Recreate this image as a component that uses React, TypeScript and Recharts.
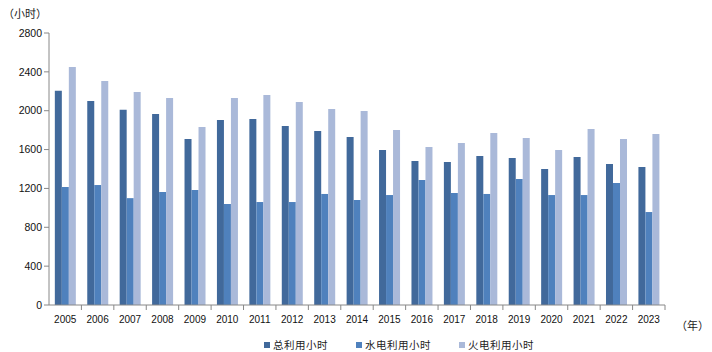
import { BarChart, Bar, XAxis, YAxis, Legend } from "recharts";

const years = [
  "2005", "2006", "2007", "2008", "2009", "2010", "2011", "2012", "2013", "2014",
  "2015", "2016", "2017", "2018", "2019", "2020", "2021", "2022", "2023",
];
const totalHours = [2205, 2100, 2010, 1966, 1708, 1904, 1915, 1843, 1791, 1729, 1595, 1482, 1472, 1534, 1513, 1400, 1523, 1451, 1420];
const hydroHours = [1215, 1235, 1100, 1163, 1184, 1040, 1060, 1060, 1143, 1081, 1132, 1287, 1153, 1143, 1297, 1132, 1132, 1256, 957];
const thermalHours = [2449, 2305, 2192, 2131, 1832, 2131, 2162, 2090, 2018, 1997, 1801, 1626, 1667, 1770, 1719, 1595, 1811, 1708, 1760];
const yTicks = [0, 400, 800, 1200, 1600, 2000, 2400, 2800];

const series = [
  { key: "total", name: "总利用小时", color: "#41699B" },
  { key: "hydro", name: "水电利用小时", color: "#4F81BD" },
  { key: "thermal", name: "火电利用小时", color: "#AAB9D9" },
];

const data = years.map((year, i) => ({
  year,
  total: totalHours[i],
  hydro: hydroHours[i],
  thermal: thermalHours[i],
}));

const font = '"Liberation Sans", Arial, "Noto Sans CJK SC", sans-serif';
const axisColor = "#888";

function XTick(props: any) {
  const { x, y, payload } = props;
  const half = payload?.offset ?? 16.2;
  return (
    <g>
      <line x1={x + half} y1={y - 8} x2={x + half} y2={y - 3} stroke={axisColor} />
      <text x={x} y={y + 10} textAnchor="middle" fill="#111" fontSize={10} fontFamily={font}>
        {payload.value}
      </text>
    </g>
  );
}

function LegendContent() {
  return (
    <div style={{ display: "flex", fontFamily: font, fontSize: 10.5, color: "#222" }}>
      {series.map((s) => (
        <div key={s.key} style={{ display: "flex", alignItems: "center", marginRight: 28 }}>
          <span style={{ width: 6, height: 6, background: s.color, marginRight: 3, display: "inline-block" }} />
          <span style={{ letterSpacing: 0.5 }}>{s.name}</span>
        </div>
      ))}
    </div>
  );
}

export default function App() {
  return (
    <div style={{ position: "absolute", left: 0, top: 0, width: 712, height: 352, background: "#fff" }}>
      <BarChart
        width={712}
        height={352}
        data={data}
        margin={{ top: 33, right: 47, bottom: 13, left: 0 }}
        barCategoryGap="18%"
        barGap={0}
      >
        <XAxis
          dataKey="year"
          height={20}
          axisLine={{ stroke: axisColor }}
          tickLine={false}
          tick={<XTick />}
          interval={0}
        />
        <YAxis
          width={49}
          domain={[0, 2800]}
          ticks={yTicks}
          interval={0}
          axisLine={{ stroke: axisColor }}
          tickLine={{ stroke: axisColor }}
          tickSize={5}
          tick={{ fill: "#111", fontSize: 10.5, fontFamily: font }}
        />
        <Legend
          content={<LegendContent />}
          wrapperStyle={{ left: 264, top: 337, width: "auto", height: 14 }}
        />
        {series.map((s) => (
          <Bar key={s.key} dataKey={s.key} name={s.name} fill={s.color} isAnimationActive={false} />
        ))}
      </BarChart>
      <div style={{ position: "absolute", left: 3, top: 5, fontFamily: font, fontSize: 11, color: "#222" }}>
        （小时）
      </div>
      <div style={{ position: "absolute", left: 676, top: 317, fontFamily: font, fontSize: 11, color: "#222" }}>
        （年）
      </div>
    </div>
  );
}
